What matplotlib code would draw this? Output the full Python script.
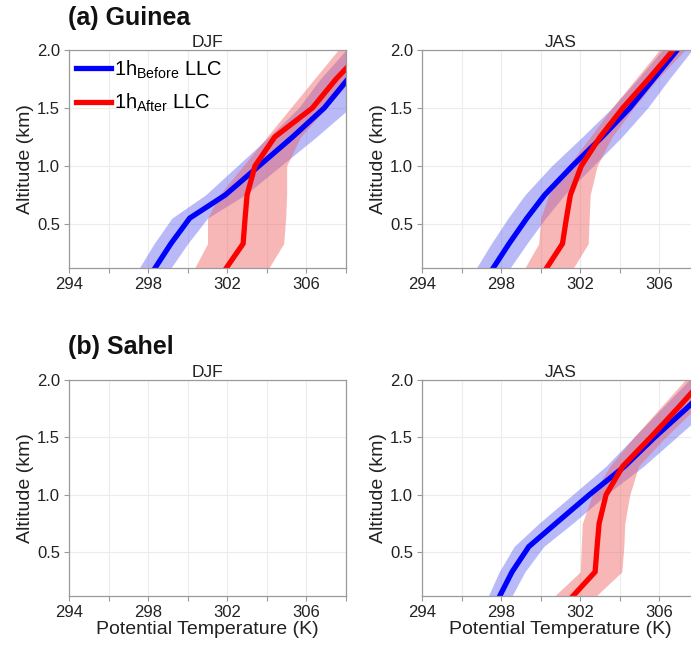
import numpy as np
import matplotlib.pyplot as plt

plt.rcParams['font.family'] = ['Liberation Sans', 'DejaVu Sans']
plt.rcParams['mathtext.fontset'] = 'custom'
plt.rcParams['mathtext.rm'] = 'Liberation Sans'

# Altitude levels (km)
z = [0.12, 0.33, 0.55, 0.75, 1.0, 1.25, 1.5, 1.75, 2.0]

# Guinea DJF
gui_djf_before = [298.35, 299.15, 300.1, 301.9, 303.6, 305.3, 306.9, 308.1, 309.5]
gui_djf_before_lo = [297.55, 298.3, 299.2, 300.9, 302.5, 304.1, 305.6, 306.7, 308.0]
gui_djf_before_hi = [299.15, 300.0, 301.0, 302.9, 304.7, 306.5, 308.2, 309.5, 311.0]
gui_djf_after = [301.95, 302.8, 302.9, 303.0, 303.4, 304.4, 306.3, 307.5, 308.9]
gui_djf_after_lo = [300.35, 301.0, 301.0, 301.6, 302.8, 304.0, 305.2, 306.4, 307.6]
gui_djf_after_hi = [304.1, 304.85, 304.95, 305.0, 305.0, 305.7, 307.0, 308.3, 309.6]

# Guinea JAS
gui_jas_before = [297.6, 298.4, 299.3, 300.2, 301.6, 303.1, 304.5, 305.7, 306.9]
gui_jas_before_lo = [296.75, 297.5, 298.35, 299.2, 300.55, 302.1, 303.6, 304.9, 306.15]
gui_jas_before_hi = [298.45, 299.3, 300.25, 301.2, 302.65, 304.1, 305.4, 306.5, 307.65]
gui_jas_after = [300.3, 301.1, 301.3, 301.5, 302.05, 303.0, 304.15, 305.45, 306.7]
gui_jas_after_lo = [299.2, 299.9, 300.0, 300.4, 301.4, 302.5, 303.6, 304.8, 306.0]
gui_jas_after_hi = [301.65, 302.4, 302.45, 302.5, 302.85, 303.6, 304.7, 305.9, 307.3]

# Sahel JAS (Sahel DJF has no data)
sah_jas_before = [297.93, 298.55, 299.4, 300.75, 302.45, 304.25, 305.75, 307.35, 308.9]
sah_jas_before_lo = [297.35, 297.9, 298.65, 299.9, 301.6, 303.3, 304.7, 306.1, 307.5]
sah_jas_before_hi = [298.55, 299.2, 300.15, 301.6, 303.3, 305.2, 306.85, 308.5, 310.2]
sah_jas_after = [301.63, 302.75, 302.85, 302.95, 303.3, 304.15, 305.55, 306.9, 308.2]
sah_jas_after_lo = [300.7, 302.0, 302.05, 302.1, 302.6, 303.5, 304.7, 306.0, 307.3]
sah_jas_after_hi = [302.8, 304.1, 304.2, 304.25, 304.5, 304.95, 306.3, 307.8, 309.2]

xticks = [294, 298, 302, 306]
yticks = [0.5, 1.0, 1.5, 2.0]

fig = plt.figure(figsize=(6.91, 6.52), dpi=100)

w = 277 / 691
h_top = 218 / 652
h_bot = 216 / 652
ax_gd = fig.add_axes([69 / 691, 384 / 652, w, h_top])
ax_gj = fig.add_axes([422 / 691, 384 / 652, w, h_top])
ax_sd = fig.add_axes([69 / 691, 56 / 652, w, h_bot])
ax_sj = fig.add_axes([422 / 691, 56 / 652, w, h_bot])


def style_axis(ax, season, xlabel=False):
    ax.set_xlim(294, 308)
    ax.set_ylim(0.12, 2.0)
    ax.set_xticks(np.arange(294, 309, 2))
    ax.set_xticklabels([str(t) if t in xticks else '' for t in range(294, 309, 2)])
    ax.set_yticks(yticks)
    ax.set_yticklabels(['%.1f' % t for t in yticks])
    ax.grid(True, color='#ececec', linewidth=0.8)
    ax.set_axisbelow(True)
    for s in ax.spines.values():
        s.set_color('#9a9a9a')
        s.set_linewidth(0.9)
    ax.tick_params(axis='both', labelsize=12, colors='#9a9a9a', labelcolor='#222222',
                   length=3.5, width=0.8, pad=3)
    ax.set_ylabel('Altitude (km)', fontsize=14, color='#222222', labelpad=2)
    ax.set_title(season, fontsize=12.5, color='#222222', pad=2)
    if xlabel:
        ax.set_xlabel('Potential Temperature (K)', fontsize=14, color='#222222', labelpad=1)


def draw_profiles(ax, before, b_lo, b_hi, after, a_lo, a_hi):
    ax.fill_betweenx(z, b_lo, b_hi, color='#5a5af0', alpha=0.42, linewidth=0)
    l1, = ax.plot(before, z, color='#0000ff', linewidth=3.8, solid_joinstyle='miter')
    ax.fill_betweenx(z, a_lo, a_hi, color='#f06060', alpha=0.45, linewidth=0)
    l2, = ax.plot(after, z, color='#ff0000', linewidth=3.8, solid_joinstyle='miter')
    return l1, l2


l1, l2 = draw_profiles(ax_gd, gui_djf_before, gui_djf_before_lo, gui_djf_before_hi,
                       gui_djf_after, gui_djf_after_lo, gui_djf_after_hi)
draw_profiles(ax_gj, gui_jas_before, gui_jas_before_lo, gui_jas_before_hi,
              gui_jas_after, gui_jas_after_lo, gui_jas_after_hi)
draw_profiles(ax_sj, sah_jas_before, sah_jas_before_lo, sah_jas_before_hi,
              sah_jas_after, sah_jas_after_lo, sah_jas_after_hi)

style_axis(ax_gd, 'DJF')
style_axis(ax_gj, 'JAS')
style_axis(ax_sd, 'DJF', xlabel=True)
style_axis(ax_sj, 'JAS', xlabel=True)

ax_gd.legend([l1, l2], [r'1h$_{\mathregular{Before}}$ LLC', r'1h$_{\mathregular{After}}$ LLC'],
             loc='upper left', bbox_to_anchor=(0.027, 0.962), frameon=False, fontsize=14.5,
             handlelength=1.7, handletextpad=0.15, labelspacing=0.55, borderpad=0,
             borderaxespad=0)

fig.text(68 / 691, 1 - 18 / 652, '(a) Guinea', fontsize=18, fontweight='bold',
         ha='left', va='center', color='#111111')
fig.text(68 / 691, 1 - 347 / 652, '(b) Sahel', fontsize=18, fontweight='bold',
         ha='left', va='center', color='#111111')

fig.savefig('out.png', dpi=100)
